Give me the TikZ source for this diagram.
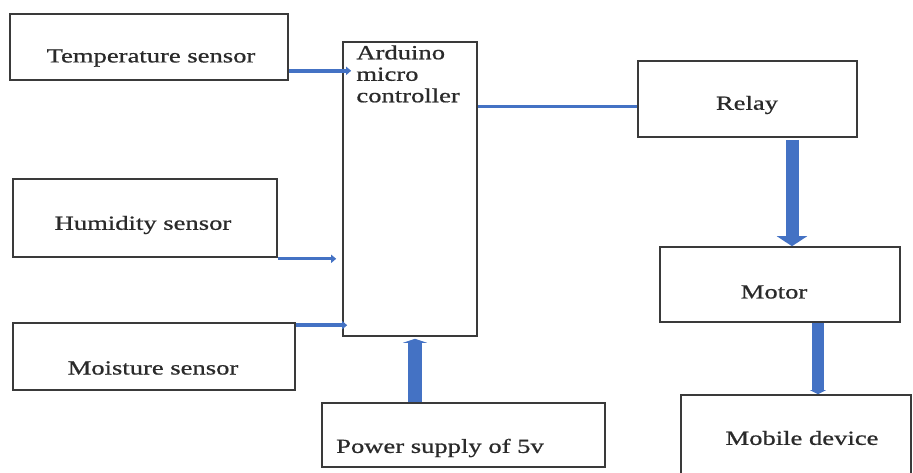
\documentclass[tikz,border=0pt]{standalone}
\usepackage{fontspec}
\setmainfont{Liberation Serif}[FakeStretch=1.33,FakeBold=0.8]
\usetikzlibrary{arrows.meta}
\definecolor{arrblue}{HTML}{4472C4}
\definecolor{boxgray}{HTML}{3A3A3A}
\definecolor{txtgray}{HTML}{2A2A2A}
\begin{document}
\begin{tikzpicture}[x=1pt,y=-1pt,
  blk/.style={draw=boxgray,line width=1.6pt,rectangle,inner sep=0pt},
  lbl/.style={inner sep=0pt,text=txtgray,font=\fontsize{20}{21.5}\selectfont},
  thinarr/.style={draw=arrblue,line width=#1,-{Triangle[width=8pt,length=5pt]}},
  thickarr/.style={draw=arrblue,line width=13pt,-{Triangle[width=30pt,length=10pt]}},
  ]
\useasboundingbox (0,0) rectangle (913,473);
% boxes
\node[blk,minimum width=278pt,minimum height=66pt] (temp) at (149,47) {};
\node[blk,minimum width=134pt,minimum height=294pt] (ard) at (410,189) {};
\node[blk,minimum width=219pt,minimum height=76pt] (relay) at (747.5,99) {};
\node[blk,minimum width=240pt,minimum height=75pt] (motor) at (780,284.5) {};
\node[blk,minimum width=230pt,minimum height=100pt] (mobile) at (796,445) {};
\node[blk,minimum width=264pt,minimum height=78pt] (hum) at (145,218) {};
\node[blk,minimum width=282pt,minimum height=67pt] (moist) at (154,356.5) {};
\node[blk,minimum width=283pt,minimum height=64pt] (power) at (463.5,435) {};
% labels
\node[lbl] (tempT) at (151,58) {Temperature sensor};
\node[lbl,anchor=north west,align=left] (ardT) at ([xshift=14pt,yshift=-4pt]ard.north west) {Arduino\\micro\\controller};
\node[lbl] (relayT) at (747,105) {Relay};
\node[lbl] (motorT) at (774,292) {Motor};
\node[lbl] (mobileT) at (802,438) {Mobile device};
\node[lbl] (humT) at (143,225) {Humidity sensor};
\node[lbl] (moistT) at (153,368) {Moisture sensor};
\node[lbl,anchor=west] (powerT) at (336,448) {Power supply of 5v};
% connectors
\draw[thinarr=3.5pt] ([yshift=10pt]temp.south east) -- ([xshift=9pt,yshift=10pt]temp.south east -| ard.west);
\draw[thinarr=3pt] ([yshift=-1pt]hum.south east) -- ([xshift=-6pt,yshift=-1pt]hum.south east -| ard.west);
\draw[thinarr=3.5pt] ([yshift=-3pt]moist.north east) -- ([xshift=5pt,yshift=-3pt]moist.north east -| ard.west);
\draw[draw=arrblue,line width=3pt] ([yshift=-8pt]relay.west -| ard.east) -- ([yshift=-8pt]relay.west);
\draw[thickarr] ([xshift=44.5pt,yshift=-2pt]relay.south) -- ([xshift=44.5pt]relay.south |- motor.north);
\draw[draw=arrblue,line width=14pt,-{Triangle[width=24pt,length=4pt]}] ([xshift=5pt]ard.south |- power.north) -- ([xshift=5pt,yshift=-2pt]ard.south);
\draw[draw=arrblue,line width=12pt,-{Triangle[width=16pt,length=4pt]}] ([xshift=38pt]motor.south) -- ([xshift=38pt]motor.south |- mobile.north);
\end{tikzpicture}
\end{document}
